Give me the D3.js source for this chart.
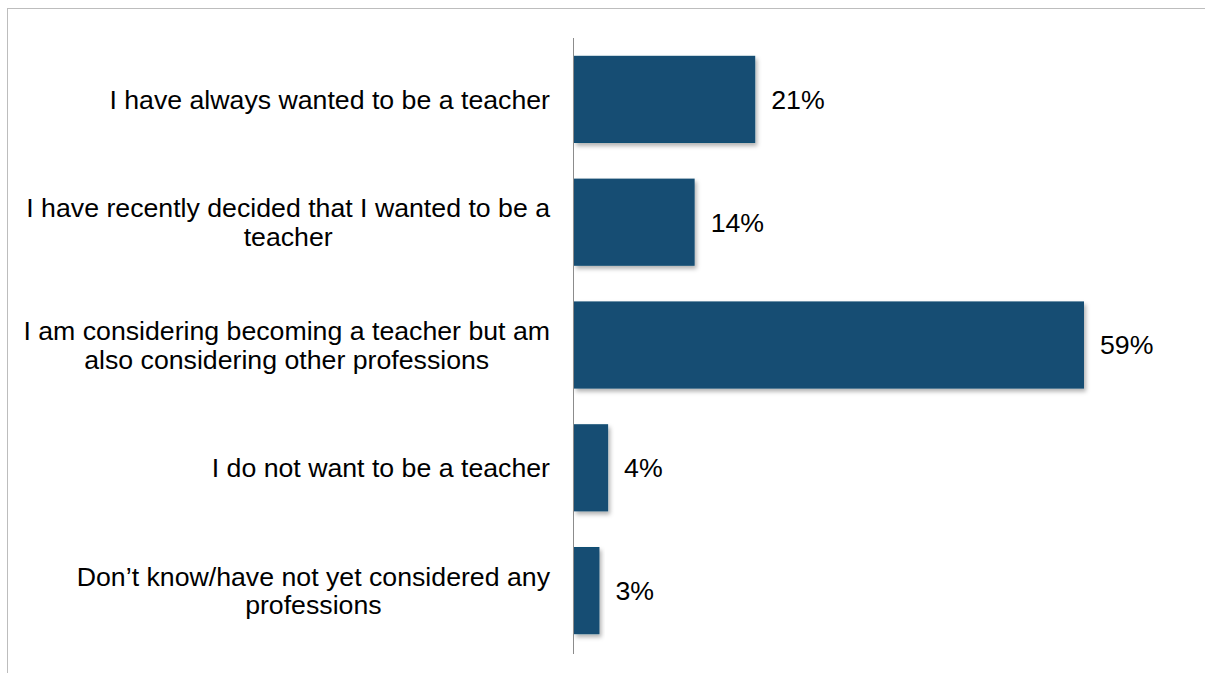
<!DOCTYPE html>
<html>
<head>
<meta charset="utf-8">
<script src="https://cdn.jsdelivr.net/npm/d3@7"></script>
<style>
  html, body { margin: 0; padding: 0; background: #fff; }
  svg { display: block; }
</style>
</head>
<body>
<script>
// Survey responses: which statement best describes the respondent's view of teaching
const categories = [
  ["I have always wanted to be a teacher"],
  ["I have recently decided that I wanted to be a", "teacher"],
  ["I am considering becoming a teacher but am", "also considering other professions"],
  ["I do not want to be a teacher"],
  ["Don\u2019t know/have not yet considered any", "professions"]
];
const values = [21, 14, 59, 4, 3];

const W = 1205, H = 673;
const svg = d3.select("body").append("svg").attr("width", W).attr("height", H);

// soft drop shadow under the bars
const defs = svg.append("defs");
const f = defs.append("filter").attr("id", "shadow")
  .attr("x", "-10%").attr("y", "-10%").attr("width", "130%").attr("height", "130%");
f.append("feDropShadow").attr("dx", 2).attr("dy", 3).attr("stdDeviation", 2)
  .attr("flood-color", "#000").attr("flood-opacity", 0.3);

// frame
svg.append("rect").attr("x", 7.5).attr("y", 8.5).attr("width", W + 10).attr("height", H + 10)
  .attr("fill", "none").attr("stroke", "#bdbdbd").attr("stroke-width", 1);

const x0 = 573.5;
const x = d3.scaleLinear().domain([0, 59]).range([x0, 1084]);
const y = d3.scaleBand().domain(d3.range(values.length)).range([38, 652]).paddingInner(0.29).paddingOuter(0.145);

const font = "'Liberation Sans', Arial, sans-serif";
const fontSize = 26.7;

svg.append("g").selectAll("rect").data(values).join("rect")
  .attr("x", x0 + 0.5)
  .attr("y", (d, i) => y(i))
  .attr("width", d => x(d) - x0 - 0.5)
  .attr("height", y.bandwidth())
  .attr("fill", "#124e73")
  .attr("filter", "url(#shadow)");

// vertical axis line
svg.append("line").attr("x1", x0).attr("x2", x0).attr("y1", 38).attr("y2", 654)
  .attr("stroke", "#8c8c8c").attr("stroke-width", 1);

// category labels: block right-aligned to the axis, lines centred within the block
const labelRight = 550;
const lineH = 28.5;
svg.append("g").selectAll("text").data(categories).join("text")
  .attr("text-anchor", "middle")
  .attr("font-family", font)
  .attr("font-size", fontSize)
  .attr("fill", "#000")
  .each(function (lines, i) {
    const t = d3.select(this);
    const cy = y(i) + y.bandwidth() / 2;
    const top = cy - (lines.length - 1) * lineH / 2;
    const spans = t.selectAll("tspan").data(lines).join("tspan")
      .attr("y", (l, k) => top + k * lineH)
      .attr("dy", "0.35em")
      .text(l => l);
    let maxW = 0;
    spans.each(function () { maxW = Math.max(maxW, this.getComputedTextLength()); });
    spans.attr("x", labelRight - maxW / 2);
  });

// value labels
svg.append("g").selectAll("text").data(values).join("text")
  .attr("x", d => x(d) + 16)
  .attr("y", (d, i) => y(i) + y.bandwidth() / 2)
  .attr("dy", "0.35em")
  .attr("font-family", font)
  .attr("font-size", fontSize)
  .attr("fill", "#000")
  .text(d => d + "%");
</script>
</body>
</html>
